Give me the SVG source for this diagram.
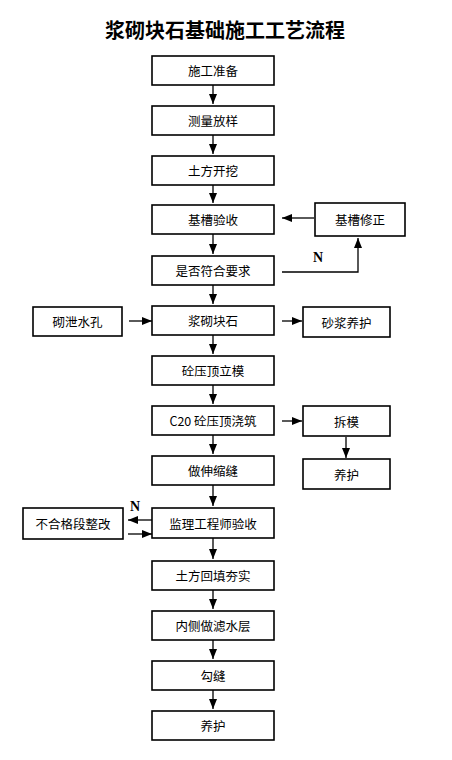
<svg xmlns="http://www.w3.org/2000/svg" width="452" height="760" viewBox="0 0 452 760">
<defs>
<marker id="ah" markerUnits="userSpaceOnUse" markerWidth="10" markerHeight="10" viewBox="0 0 10 10" refX="10" refY="5" orient="auto">
<path d="M0,1 L10,5 L0,9 Z" fill="#000"/>
</marker>
</defs>
<style>
.box{fill:#fff;stroke:#000;stroke-width:1.6}
.t{font-family:"Noto Sans CJK SC","Liberation Serif",serif;font-size:12.5px;text-anchor:middle;dominant-baseline:central;fill:#000}
.title{font-family:"Noto Sans CJK SC",serif;font-size:20px;font-weight:bold;text-anchor:middle;fill:#000}
.n{font-family:"Liberation Serif",serif;font-size:14px;font-weight:bold;fill:#000}
.c{stroke:#000;stroke-width:1.3;fill:none;marker-end:url(#ah)}
</style>
<rect width="452" height="760" fill="#fff"/>
<text class="title" x="225" y="38">浆砌块石基础施工工艺流程</text>

<g id="connectors">
<line class="c" x1="213" y1="85" x2="213" y2="104"/>
<line class="c" x1="213" y1="135" x2="213" y2="154"/>
<line class="c" x1="213" y1="185" x2="213" y2="203"/>
<line class="c" x1="213" y1="234" x2="213" y2="254"/>
<line class="c" x1="213" y1="285" x2="213" y2="304"/>
<line class="c" x1="213" y1="335" x2="213" y2="354"/>
<line class="c" x1="213" y1="385" x2="213" y2="404"/>
<line class="c" x1="213" y1="435" x2="213" y2="454"/>
<line class="c" x1="213" y1="485" x2="213" y2="506"/>
<line class="c" x1="213" y1="538" x2="213" y2="559"/>
<line class="c" x1="213" y1="590" x2="213" y2="609"/>
<line class="c" x1="213" y1="640" x2="213" y2="659"/>
<line class="c" x1="213" y1="690" x2="213" y2="709"/>
<line class="c" x1="314" y1="218" x2="282" y2="218"/>
<path class="c" d="M282,272 H358 V238"/>
<line class="c" x1="129" y1="321" x2="152" y2="321"/>
<line class="c" x1="282" y1="321" x2="302" y2="321"/>
<line class="c" x1="282" y1="421" x2="302" y2="421"/>
<line class="c" x1="346" y1="437" x2="346" y2="458"/>
<line class="c" x1="152" y1="520" x2="128" y2="520"/>
<line class="c" x1="128" y1="534" x2="152" y2="534"/>
<text class="n" x="313" y="262">N</text>
<text class="n" x="130" y="511">N</text>
</g>

<g id="n1"><rect class="box" x="152" y="56" width="122" height="29"/><text class="t" x="213" y="70.5">施工准备</text></g>
<g id="n2"><rect class="box" x="152" y="106" width="122" height="29"/><text class="t" x="213" y="120.5">测量放样</text></g>
<g id="n3"><rect class="box" x="152" y="156" width="122" height="29"/><text class="t" x="213" y="170.5">土方开挖</text></g>
<g id="n4"><rect class="box" x="152" y="205" width="122" height="29"/><text class="t" x="213" y="219.5">基槽验收</text></g>
<g id="n5"><rect class="box" x="152" y="256" width="122" height="29"/><text class="t" x="213" y="270.5">是否符合要求</text></g>
<g id="n6"><rect class="box" x="152" y="306" width="122" height="29"/><text class="t" x="213" y="320.5">浆砌块石</text></g>
<g id="n7"><rect class="box" x="152" y="356" width="122" height="29"/><text class="t" x="213" y="370.5">砼压顶立模</text></g>
<g id="n8"><rect class="box" x="152" y="406" width="122" height="29"/><text class="t" x="213" y="420.5">C20 砼压顶浇筑</text></g>
<g id="n9"><rect class="box" x="152" y="456" width="122" height="29"/><text class="t" x="213" y="470.5">做伸缩缝</text></g>
<g id="n10"><rect class="box" x="152" y="508" width="122" height="30"/><text class="t" x="213" y="523">监理工程师验收</text></g>
<g id="n11"><rect class="box" x="152" y="561" width="122" height="29"/><text class="t" x="213" y="575.5">土方回填夯实</text></g>
<g id="n12"><rect class="box" x="152" y="611" width="122" height="29"/><text class="t" x="213" y="625.5">内侧做滤水层</text></g>
<g id="n13"><rect class="box" x="152" y="661" width="122" height="29"/><text class="t" x="213" y="675.5">勾缝</text></g>
<g id="n14"><rect class="box" x="152" y="711" width="122" height="29"/><text class="t" x="213" y="725.5">养护</text></g>

<g id="n15"><rect class="box" x="315" y="203" width="90" height="33"/><text class="t" x="360" y="219.5">基槽修正</text></g>
<g id="n16"><rect class="box" x="33" y="307" width="89" height="29"/><text class="t" x="77.5" y="321.5">砌泄水孔</text></g>
<g id="n17"><rect class="box" x="303" y="307" width="87" height="30"/><text class="t" x="346.5" y="322">砂浆养护</text></g>
<g id="n18"><rect class="box" x="303" y="406" width="87" height="30"/><text class="t" x="346.5" y="421">拆模</text></g>
<g id="n19"><rect class="box" x="303" y="459" width="87" height="30"/><text class="t" x="346.5" y="474">养护</text></g>
<g id="n20"><rect class="box" x="23" y="508" width="100" height="31"/><text class="t" x="73" y="523.5">不合格段整改</text></g>
</svg>
